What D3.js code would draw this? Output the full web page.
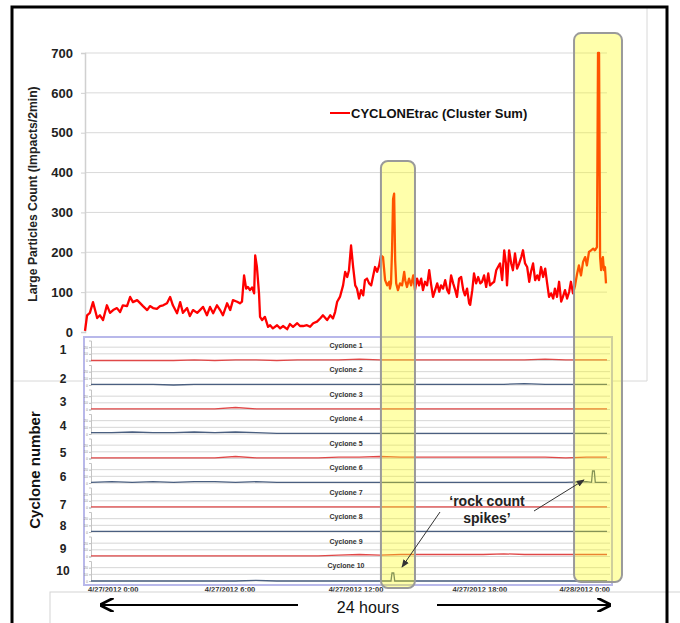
<!DOCTYPE html>
<html><head><meta charset="utf-8">
<script src="https://cdn.jsdelivr.net/npm/d3@7/dist/d3.min.js"></script>
<style>
body{margin:0;background:#fff}
svg{display:block;font-family:'Liberation Sans',Arial,sans-serif}
</style></head>
<body><svg id="chart" width="680" height="623"></svg>
<script>
// ---------------- DATA ----------------
const yTicks = [0,100,200,300,400,500,600,700];
const seriesName = "CYCLONEtrac (Cluster Sum)";
const yTitle = "Large Particles Count  (Impacts/2min)";
// minutes since 4/27/2012 0:00
const minutes = [
 0,6,14,23,29,35,43,52,63,72,
 81,92,101,109,121,130,138,150,158,167,
 179,187,196,207,216,225,236,245,253,265,
 274,282,294,302,311,323,331,340,351,360,
 369,380,389,397,409,418,426,438,446,452,
 458,464,469,475,481,487,490,495,501,504,
 510,518,527,533,541,553,562,570,582,590,
 599,611,619,628,639,648,657,668,677,685,
 697,706,714,720,726,734,743,749,755,760,
 766,772,778,783,789,795,801,806,812,818,
 824,829,835,841,847,852,858,864,870,876,
 878,881,884,887,890,893,896,901,907,913,
 919,922,927,933,939,945,950,956,962,968,
 973,979,985,991,996,1002,1008,1014,1020,1025,
 1031,1037,1043,1048,1054,1060,1066,1071,1077,1083,
 1089,1094,1100,1106,1109,1115,1120,1126,1132,1138,
 1143,1149,1155,1161,1166,1172,1178,1184,1189,1195,
 1201,1207,1212,1215,1221,1227,1232,1238,1244,1250,
 1256,1261,1267,1273,1279,1284,1290,1296,1302,1307,
 1313,1319,1325,1330,1336,1342,1348,1353,1359,1365,
 1371,1376,1382,1388,1394,1399,1405,1411,1417,1422,
 1428,1434,1440,1445,1451,1457,1463,1468,1474,1477,
 1480,1483,1486,1489,1491,1494,1497,1500];
const counts = [
 3,42,48,75,55,35,42,30,67,48,
 55,60,50,67,65,88,75,80,73,65,
 55,65,60,58,65,67,72,88,67,47,
 75,48,60,40,55,48,55,63,42,63,
 47,67,55,42,72,55,80,76,72,76,
 142,109,113,105,112,97,192,163,97,38,
 30,38,13,17,9,17,9,15,7,20,
 13,22,15,15,17,13,22,26,34,42,
 30,42,34,50,76,88,117,151,138,155,
 217,163,117,109,84,105,92,130,134,122,
 117,138,163,151,167,192,188,130,117,126,
 109,122,205,334,347,180,122,105,122,117,
 151,130,113,134,117,142,105,134,117,134,
 105,126,117,155,122,88,105,122,101,117,
 109,130,105,97,142,122,105,88,134,138,
 105,92,109,72,68,105,147,122,138,122,
 126,142,113,147,117,122,126,155,163,172,
 130,205,172,117,205,172,155,197,159,172,
 188,205,172,163,126,151,172,130,142,130,
 163,138,159,126,88,97,84,109,88,126,
 76,88,105,84,101,126,97,117,147,167,
 142,176,188,167,201,205,209,205,213,700,
 700,188,155,180,188,155,163,122];

const cycloneNames = ["Cyclone 1","Cyclone 2","Cyclone 3","Cyclone 4","Cyclone 5",
                      "Cyclone 6","Cyclone 7","Cyclone 8","Cyclone 9","Cyclone 10"];
const cycloneNumbers = ["1","2","3","4","5","6","7","8","9","10"];
const cycloneMinutes = [0,60,120,180,240,300,360,420,480,540,600,660,720,780,840,900,960,1020,1080,1140,1200,1260,1320,1380,1440,1500];
const cyclone1  = [0,0,0,0,0,1,0,1,1,0,1,1,1,2,1,1,1,1,1,1,1,1,2,1,1,1];
const cyclone2  = [1,1,1,1,0,1,1,1,1,1,1,1,1,1,1,1,1,1,1,1,1,2,1,1,1,1];
const cyclone3  = [1,1,1,1,1,1,1,3,1,1,1,1,1,1,1,1,1,1,1,1,1,1,1,1,1,1];
const cyclone4  = [2,2,3,2,2,3,2,3,2,1,1,1,1,1,1,1,1,1,1,1,1,1,1,1,1,1];
const cyclone5  = [1,1,1,1,1,1,1,3,1,1,1,1,2,2,3,2,2,2,2,2,2,2,2,1,2,2];
const cyclone6  = [1,2,1,2,1,2,2,1,2,1,1,1,1,1,1,1,1,1,1,1,1,1,1,1,2,1];
const cyclone7  = [1,1,1,1,1,1,1,1,1,1,1,1,1,1,1,1,1,1,1,1,1,1,1,1,1,1];
const cyclone8  = [1,1,1,1,1,1,1,1,1,1,1,1,1,1,1,1,1,1,1,1,1,1,1,1,1,1];
const cyclone9  = [1,1,1,1,1,1,1,1,1,1,1,1,2,3,2,3,3,3,3,3,4,3,3,3,3,3];
const cyclone10 = [0,0,0,0,0,0,0,0,1,0,0,0,0,0,0,0,0,0,0,0,0,0,0,0,0,0];
const cycloneValues = [cyclone1,cyclone2,cyclone3,cyclone4,cyclone5,cyclone6,cyclone7,cyclone8,cyclone9,cyclone10];
const spikeCyclone = [6, 10];
const spikeMinutes = [[1455,1458,1463,1466],[872,875,880,883]];
const spikeValues  = [[1,18,18,1],[0,12,12,0]];
const cycloneTicks = [0,10,20];

const dateMinutes = [0,360,720,1080,1440];
const dateLabels = ["4/27/2012 0:00","4/27/2012 6:00","4/27/2012 12:00","4/27/2012 18:00","4/28/2012 0:00"];

const highlightStart = [852, 1408];
const highlightEnd   = [950, 1546];
const highlightTop   = [429, 750];

const annotationText = ["\u2018rock count", "spikes\u2019"];
const spanText = "24 hours";

// ---------------- DRAW ----------------
const svg = d3.select("#chart");
const x = d3.scaleLinear().domain([0,1500]).range([85,606]);
const y = d3.scaleLinear().domain([0,700]).range([332,53]);
const xl = d3.scaleLinear().domain([0,1500]).range([91,607]);

const defs = svg.append("defs");
defs.append("marker").attr("id","bigArrow").attr("viewBox","0 0 10 10").attr("refX",9).attr("refY",5)
  .attr("markerWidth",14).attr("markerHeight",14).attr("orient","auto").attr("markerUnits","userSpaceOnUse")
  .append("path").attr("d","M0,0 L10,5 L0,10").attr("fill","none").attr("stroke","#000").attr("stroke-width",2);
defs.append("marker").attr("id","smallArrow").attr("viewBox","0 0 10 10").attr("refX",9).attr("refY",5)
  .attr("markerWidth",8).attr("markerHeight",8).attr("orient","auto").attr("markerUnits","userSpaceOnUse")
  .append("path").attr("d","M0,1 L10,5 L0,9 Z").attr("fill","#333");

// upper chart frame (light grey)
svg.append("line").attr("x1",647).attr("x2",647).attr("y1",7).attr("y2",381).attr("stroke","#d8d8d8");
svg.append("line").attr("x1",12).attr("x2",647).attr("y1",381).attr("y2",381).attr("stroke","#d8d8d8");

// gridlines
svg.append("g").selectAll("line").data(yTicks.filter(d=>d>0)).join("line")
  .attr("x1",85).attr("x2",607).attr("y1",d=>y(d)).attr("y2",d=>y(d))
  .attr("stroke","#d9d9d9").attr("stroke-width",1);

// y axis
const ya = svg.append("g").attr("transform","translate(85,0)")
  .call(d3.axisLeft(y).tickValues(yTicks).tickSize(4).tickPadding(8).tickFormat(d3.format("d")));
ya.select(".domain").attr("stroke","#d0d0d0").attr("stroke-width",1.5);
ya.selectAll(".tick line").attr("stroke","#d0d0d0");
ya.selectAll(".tick text").attr("font-size",13).attr("font-weight","bold").attr("fill","#222")
  .attr("font-family","'Liberation Sans',Arial,sans-serif");

svg.append("text").attr("transform","translate(37,194) rotate(-90)").attr("text-anchor","middle")
  .attr("font-size",12.2).attr("font-weight","bold").attr("fill","#222").text(yTitle);

// series line
const pts = minutes.map((m,i)=>[m,counts[i]]);
svg.append("path").datum(pts).attr("fill","none").attr("stroke","#ff0000").attr("stroke-width",2.3)
  .attr("stroke-linejoin","round")
  .attr("d", d3.line().x(d=>x(d[0])).y(d=>y(d[1])));

// legend
svg.append("line").attr("x1",330).attr("x2",350).attr("y1",113).attr("y2",113).attr("stroke","#ff0000").attr("stroke-width",2);
svg.append("text").attr("x",351).attr("y",117.5).attr("font-size",13).attr("font-weight","bold").attr("fill","#111").text(seriesName);

// ---------- lower panels ----------
svg.append("rect").attr("x",84).attr("y",337).attr("width",528).attr("height",248)
  .attr("fill","#fff").attr("stroke","#b8b8ea").attr("stroke-width",2);

const rowBase = d3.scaleLinear().domain([0,9]).range([360.5,581]);
const lineColors = ["#e04848","#4a5f80"];
cycloneNames.forEach((name,k)=>{
  const yb = rowBase(k);
  const ys = d3.scaleLinear().domain([0,30]).range([yb, yb-20]);
  const g = svg.append("g");
  g.selectAll("line.grid").data(cycloneTicks).join("line").attr("class","grid")
    .attr("x1",91).attr("x2",610).attr("y1",d=>ys(d)).attr("y2",d=>ys(d))
    .attr("stroke","#d6d6d6").attr("stroke-width",1);
  const ax = g.append("g").attr("transform","translate(91,0)")
    .call(d3.axisLeft(ys).tickValues(cycloneTicks).tickSize(2).tickPadding(1));
  ax.select(".domain").attr("stroke","#c4c4c4");
  ax.selectAll(".tick line").attr("stroke","#bbb");
  ax.selectAll(".tick text").attr("font-size",3.5).attr("fill","#888");
  g.append("text").attr("x",346).attr("y",yb-13).attr("text-anchor","middle")
    .attr("font-size",7).attr("font-weight","bold").attr("fill","#333").text(name);
  let data = cycloneMinutes.map((m,i)=>[m,cycloneValues[k][i]]);
  spikeCyclone.forEach((c,si)=>{
    if (c===k+1) spikeMinutes[si].forEach((m,j)=>data.push([m,spikeValues[si][j]]));
  });
  data.sort((a,b)=>a[0]-b[0]);
  g.append("path").datum(data).attr("fill","none").attr("stroke",lineColors[k%2]).attr("stroke-width",1.3)
    .attr("d", d3.line().x(d=>xl(d[0])).y(d=>ys(d[1])));
});

// cyclone number labels
const numNudge = [0,4,3,2,5,4,8,4,3,0];
svg.append("g").selectAll("text").data(cycloneNumbers).join("text")
  .attr("x",63).attr("y",(d,i)=>rowBase(i)-9.5+numNudge[i]).attr("text-anchor","middle").attr("dominant-baseline","middle")
  .attr("font-size",12).attr("font-weight","bold").attr("fill","#222").text(d=>d);
svg.append("text").attr("transform","translate(40,470) rotate(-90)").attr("text-anchor","middle")
  .attr("font-size",15).attr("font-weight","bold").attr("fill","#111").text("Cyclone number");

// date labels
svg.append("g").selectAll("text").data(dateLabels).join("text")
  .attr("x",(d,i)=> i===dateLabels.length-1 ? 610 : xl(dateMinutes[i]) - 3 - (i===0? 0 : 7))
  .attr("text-anchor",(d,i)=> i===dateLabels.length-1 ? "end" : "start")
  .attr("y",592).attr("font-size",7.5).attr("font-weight","bold").attr("fill","#333").text(d=>d);

// highlight boxes
const hBottom = [588, 582];
svg.append("g").selectAll("rect").data(highlightStart).join("rect")
  .attr("x",(d,i)=>x(d)).attr("width",(d,i)=>x(highlightEnd[i])-x(d))
  .attr("y",(d,i)=>y(highlightTop[i])).attr("height",(d,i)=>hBottom[i]-y(highlightTop[i]))
  .attr("rx",7).attr("fill","#ffff00").attr("fill-opacity",0.33)
  .attr("stroke","#9a9a9a").attr("stroke-width",2);

// annotation
svg.append("g").selectAll("text").data(annotationText).join("text")
  .attr("x",487).attr("y",(d,i)=>506+i*17).attr("text-anchor","middle")
  .attr("font-size",14).attr("font-weight","bold").attr("fill","#222").text(d=>d);
svg.append("line").attr("x1",440).attr("y1",512).attr("x2",402).attr("y2",567)
  .attr("stroke","#333").attr("stroke-width",1).attr("marker-end","url(#smallArrow)");
svg.append("line").attr("x1",534).attr("y1",511).attr("x2",584).attr("y2",480)
  .attr("stroke","#333").attr("stroke-width",1).attr("marker-end","url(#smallArrow)");

// bottom box
svg.append("rect").attr("x",50).attr("y",592).attr("width",640).attr("height",40)
  .attr("fill","#fff").attr("stroke","#d4d4d4");
svg.append("text").attr("x",368).attr("y",613).attr("text-anchor","middle").attr("font-size",16).attr("fill","#111").text(spanText);
svg.append("line").attr("x1",298).attr("x2",101).attr("y1",605).attr("y2",605).attr("stroke","#000").attr("stroke-width",2.2).attr("marker-end","url(#bigArrow)");
svg.append("line").attr("x1",437).attr("x2",610).attr("y1",605).attr("y2",605).attr("stroke","#000").attr("stroke-width",2.2).attr("marker-end","url(#bigArrow)");

// outer black frame
svg.append("path").attr("d","M12,640 L12,7 L667,7 L667,640").attr("fill","none").attr("stroke","#000").attr("stroke-width",3);
</script></body></html>
